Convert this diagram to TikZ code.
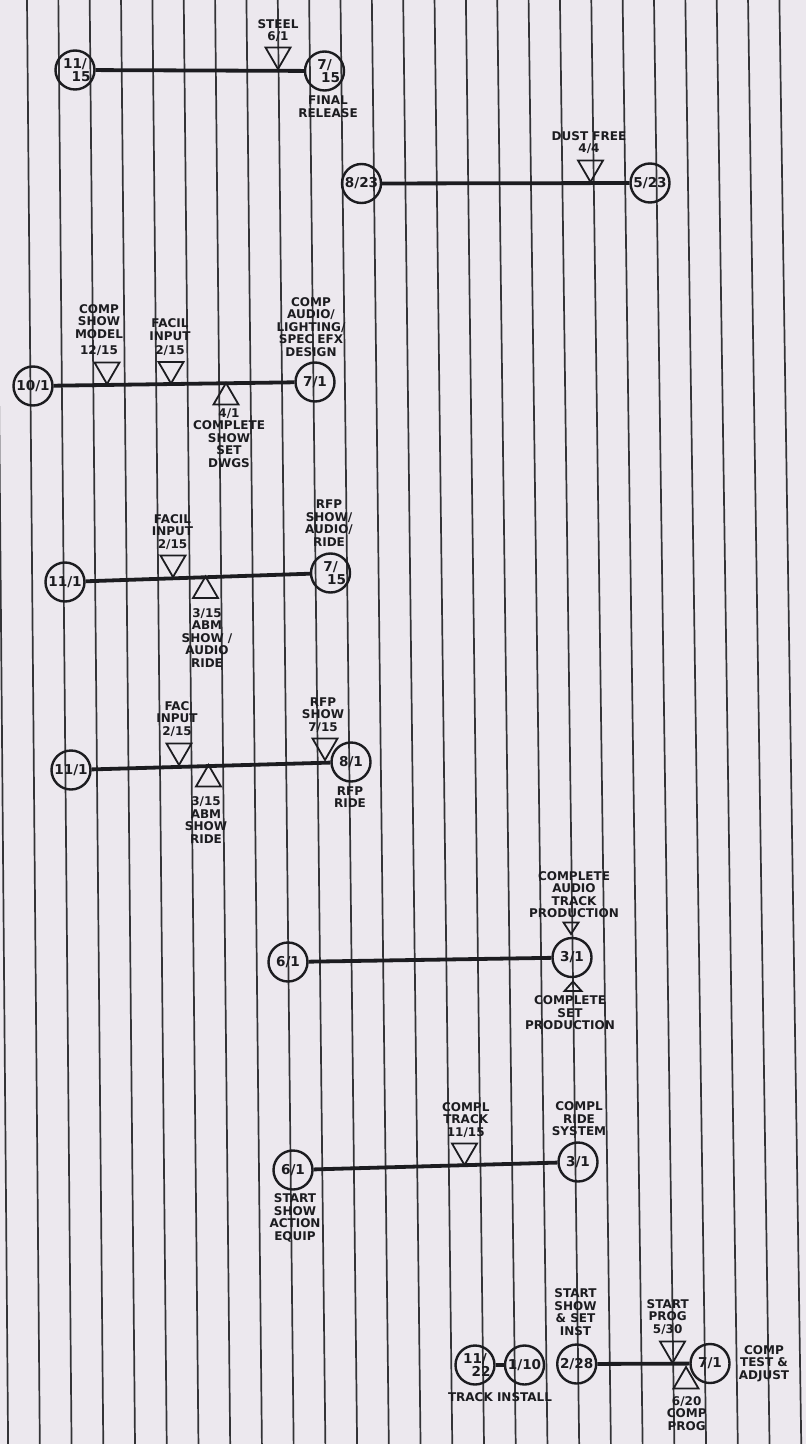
\documentclass[tikz,border=0pt]{standalone}
\usepackage{fontspec}
\setmainfont{DejaVu Sans}
\definecolor{paper}{RGB}{236,232,238}
\definecolor{ink}{RGB}{28,28,32}
\newcommand\lblfont{\bfseries\fontsize{6}{6.25}\selectfont}
\newcommand\evfont{\bfseries\fontsize{6.8}{6.5}\selectfont}
\begin{document}
\begin{tikzpicture}[x=0.5pt,y=-0.5pt,
  gridline/.style={line width=0.85pt, draw=ink!90},
  ev/.style={circle, draw=ink, line width=1.2pt, minimum size=19.5pt, inner sep=0pt, font=\evfont, align=center, text=ink},
  bar/.style={line width=1.9pt, draw=ink},
  lbl/.style={font=\lblfont, align=center, inner sep=0pt, text=ink},
  tristyle/.style={line width=0.9pt, draw=ink, line join=miter},
  dtri/.pic={\draw[tristyle] (-12.5,-21.5) -- (12.5,-21.5) -- (0,0) -- cycle;},
  utri/.pic={\draw[tristyle] (-12.5,21.5) -- (12.5,21.5) -- (0,0) -- cycle;},
  sdtri/.pic={\draw[tristyle] (-7.5,-11.5) -- (7.5,-11.5) -- (0,0) -- cycle;},
  sutri/.pic={\draw[tristyle] (-8.5,9.5) -- (8.5,9.5) -- (0,0) -- cycle;}
]
\fill[paper] (0,0) rectangle (806,1444);
\useasboundingbox (0,0) rectangle (806,1444);
\clip (0,0) rectangle (806,1444);
% vertical grid lines
\foreach \k in {-1,...,24}{
  \pgfmathsetmacro\xt{27+31.35*\k}
  \pgfmathsetmacro\xb{1.012*\xt+12.5}
  \draw[gridline] (\xt,0) -- (\xb,1444);
}
% ---- row 1
\node[ev] (a1) at (75,70) {11/\\\hspace*{6pt}15};
\node[ev] (b1) at (324.5,71) {7/\\\hspace*{6pt}15};
\draw[bar] (a1) -- (b1);
\pic (t1) at (278,69) {dtri};
\node[lbl] (l1a) at (278,30.5) {STEEL\\6/1};
\node[lbl] (l1b) at (328,106.5) {FINAL\\RELEASE};
% ---- row 2
\node[ev] (a2) at (361.5,183.5) {8/23};
\node[ev] (b2) at (650,183) {5/23};
\draw[bar] (a2) -- (b2);
\pic (t2) at (590.5,182) {dtri};
\node[lbl] (l2a) at (589,142.5) {DUST FREE\\4/4};
% ---- row 3
\node[ev] (a3) at (33,386) {10/1};
\node[ev] (b3) at (315,382) {7/1};
\draw[bar] (a3) -- (b3);
\pic (t3a) at (107,384) {dtri};
\pic (t3b) at (171,383.5) {dtri};
\pic (t3c) at (226,383) {utri};
\node[lbl] (l3a) at (99,330) {COMP\\SHOW\\MODEL\\[2pt]12/15};
\node[lbl] (l3b) at (170,337.5) {FACIL\\INPUT\\[1pt]2/15};
\node[lbl] (l3c) at (229,438) {4/1\\COMPLETE\\SHOW\\SET\\DWGS};
\node[lbl] (l3d) at (311,327) {COMP\\AUDIO/\\LIGHTING/\\SPEC EFX\\DESIGN};
% ---- row 4
\node[ev] (a4) at (65,582) {11/1};
\node[ev] (b4) at (330.5,573) {7/\\\hspace*{6pt}15};
\draw[bar] (a4) -- (b4);
\pic (t4a) at (173,577) {dtri};
\pic (t4b) at (205.5,576.5) {utri};
\node[lbl] (l4a) at (172.5,532) {FACIL\\INPUT\\2/15};
\node[lbl] (l4b) at (207,638) {3/15\\ABM\\SHOW /\\AUDIO\\RIDE};
\node[lbl] (l4c) at (329,523) {RFP\\SHOW/\\AUDIO/\\RIDE};
% ---- row 5
\node[ev] (a5) at (71,770) {11/1};
\node[ev] (b5) at (351,762) {8/1};
\draw[bar] (a5) -- (b5);
\pic (t5a) at (179,765) {dtri};
\pic (t5b) at (208.5,765) {utri};
\pic (t5c) at (325,760) {dtri};
\node[lbl] (l5a) at (177,719) {FAC\\INPUT\\2/15};
\node[lbl] (l5b) at (206,820) {3/15\\ABM\\SHOW\\RIDE};
\node[lbl] (l5c) at (323,715) {RFP\\SHOW\\7/15};
\node[lbl] (l5d) at (350,797) {RFP\\RIDE};
% ---- row 6
\node[ev] (a6) at (288,962) {6/1};
\node[ev] (b6) at (572,957.5) {3/1};
\draw[bar] (a6) -- (b6);
\pic (t6a) at (571,934) {sdtri};
\pic (t6b) at (573,981.5) {sutri};
\node[lbl] (l6a) at (574,894.5) {COMPLETE\\AUDIO\\TRACK\\PRODUCTION};
\node[lbl] (l6b) at (570,1013) {COMPLETE\\SET\\PRODUCTION};
% ---- row 7
\node[ev] (a7) at (293,1170) {6/1};
\node[ev] (b7) at (578,1162) {3/1};
\draw[bar] (a7) -- (b7);
\pic (t7a) at (464.5,1165) {dtri};
\node[lbl] (l7a) at (465.7,1120) {COMPL\\TRACK\\11/15};
\node[lbl] (l7b) at (579,1119) {COMPL\\RIDE\\SYSTEM};
\node[lbl] (l7c) at (295,1218) {START\\SHOW\\ACTION\\EQUIP};
% ---- row 8
\node[ev] (a8) at (475,1365) {11/\\\hspace*{6pt}22};
\node[ev] (b8) at (524.5,1365) {1/10};
\draw[bar] (a8) -- (b8);
\node[lbl] (l8a) at (500,1397) {TRACK INSTALL};
\node[ev] (c8) at (576.7,1364) {2/28};
\node[ev] (d8) at (710,1363.5) {7/1};
\draw[bar] (c8) -- (d8);
\pic (t8a) at (672.5,1363) {dtri};
\pic (t8b) at (686,1367) {utri};
\node[lbl] (l8b) at (575.5,1312) {START\\SHOW\\\& SET\\INST};
\node[lbl] (l8c) at (667.7,1317) {START\\PROG\\5/30};
\node[lbl] (l8d) at (686.7,1413.5) {6/20\\COMP\\PROG};
\node[lbl] (l8e) at (764,1363.5) {COMP\\TEST \&\\ADJUST};
\end{tikzpicture}
\end{document}
